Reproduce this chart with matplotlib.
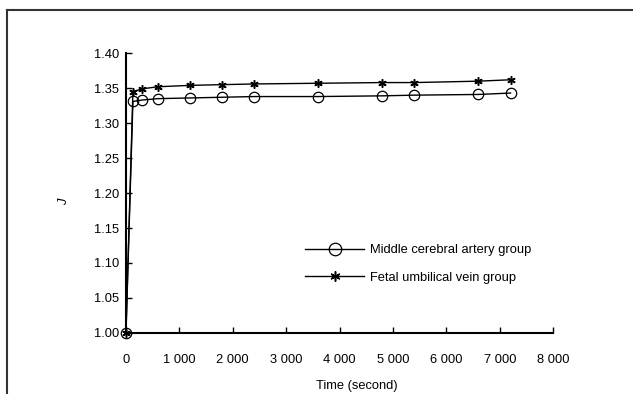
import matplotlib
matplotlib.use("Agg")
import matplotlib.pyplot as plt
from matplotlib.lines import Line2D

# data
time_s = [0, 130, 300, 600, 1200, 1800, 2400, 3600, 4800, 5400, 6600, 7200]
mca = [1.000, 1.331, 1.333, 1.335, 1.336, 1.337, 1.338, 1.338, 1.339, 1.340, 1.341, 1.343]
fuv = [1.000, 1.345, 1.349, 1.352, 1.354, 1.355, 1.356, 1.357, 1.358, 1.358, 1.360, 1.362]

xticks = [0, 1000, 2000, 3000, 4000, 5000, 6000, 7000, 8000]
xtick_labels = ["0", "1 000", "2 000", "3 000", "4 000", "5 000", "6 000", "7 000", "8 000"]
yticks = [1.00, 1.05, 1.10, 1.15, 1.20, 1.25, 1.30, 1.35, 1.40]

plt.rcParams["font.family"] = ["Liberation Sans", "DejaVu Sans"]
plt.rcParams["font.size"] = 9.3

fig = plt.figure(figsize=(6.33, 3.94), dpi=100)
ax = fig.add_axes([0.199, 0.155, 0.675, 0.71])

ax.plot(time_s, mca, color="black", linewidth=1.0, marker="o", markersize=7.5,
        markerfacecolor="none", markeredgecolor="black", markeredgewidth=0.9,
        clip_on=False, zorder=3, label="Middle cerebral artery group")
ax.plot(time_s, fuv, color="black", linewidth=1.0, marker=(6, 2, 0), markersize=6,
        markeredgewidth=1.1, clip_on=False, zorder=3, label="Fetal umbilical vein group")

ax.set_xlim(0, 8000)
ax.set_ylim(1.00, 1.40)
ax.set_xticks(xticks)
ax.set_xticklabels(xtick_labels)
ax.set_yticks(yticks)
ax.set_yticklabels([f"{v:.2f}" for v in yticks])

for s in ["top", "right"]:
    ax.spines[s].set_visible(False)
for s in ["left", "bottom"]:
    ax.spines[s].set_linewidth(1.5)
ax.tick_params(direction="in", length=4, width=1, pad=5)
ax.tick_params(axis="x", pad=15)

ax.set_xlabel("Time (second)")
ax.xaxis.set_label_coords(0.54, -0.17)
ax.set_ylabel("J", style="italic")
ax.yaxis.set_label_coords(-0.13, 0.47)

ax.legend(loc="upper left", bbox_to_anchor=(0.407, 0.335), frameon=False,
          handlelength=4.6, handletextpad=0.4, labelspacing=1.2, borderaxespad=0,
          markerscale=1.2)

# frame around the figure (only left and top visible)
fig.add_artist(Line2D([0.011, 0.011], [0, 0.975], color="#333333", linewidth=1.5))
fig.add_artist(Line2D([0.011, 1.0], [0.975, 0.975], color="#333333", linewidth=1.5))

fig.savefig("out.png", dpi=100)
